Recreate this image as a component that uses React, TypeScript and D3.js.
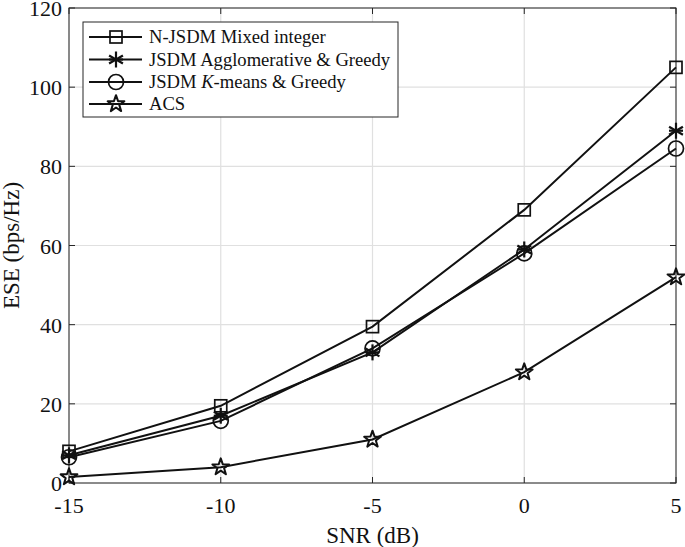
import * as d3 from 'd3';

const snr = [-15, -10, -5, 0, 5];
const xTicks = [-15, -10, -5, 0, 5];
const yTicks = [0, 20, 40, 60, 80, 100, 120];

const njsdmMixed = [8, 19.5, 39.5, 69, 105];
const jsdmAgglo = [7, 17, 33, 59, 89];
const jsdmKmeans = [6.5, 15.7, 34, 58, 84.5];
const acs = [1.5, 4, 11, 28, 52];

type Marker = 'square' | 'asterisk' | 'circle' | 'star';

const series: { name: string; values: number[]; marker: Marker }[] = [
  { name: 'N-JSDM Mixed integer', values: njsdmMixed, marker: 'square' },
  { name: 'JSDM Agglomerative & Greedy', values: jsdmAgglo, marker: 'asterisk' },
  { name: 'JSDM K-means & Greedy', values: jsdmKmeans, marker: 'circle' },
  { name: 'ACS', values: acs, marker: 'star' },
];

const W = 685;
const H = 547;
const margin = { left: 69, right: 9, top: 8, bottom: 64 };
const FONT = '"Liberation Serif", "Times New Roman", serif';

function MarkerShape({ type, x, y }: { type: Marker; x: number; y: number }) {
  const common = { fill: 'none', stroke: '#111', strokeWidth: 1.7 };
  if (type === 'square') {
    return <rect x={x - 6} y={y - 6} width={12} height={12} {...common} />;
  }
  if (type === 'circle') {
    return <circle cx={x} cy={y} r={7.5} {...common} />;
  }
  if (type === 'asterisk') {
    const r = 8;
    const lines = [0, 60, 120].map(a => {
      const rad = (a * Math.PI) / 180 + Math.PI / 2;
      return (
        <line key={a}
          x1={x - r * Math.cos(rad)} y1={y - r * Math.sin(rad)}
          x2={x + r * Math.cos(rad)} y2={y + r * Math.sin(rad)}
          stroke="#111" strokeWidth={2.2} />
      );
    });
    return <g>{lines}<line x1={x - 7} y1={y} x2={x + 7} y2={y} stroke="#111" strokeWidth={2.2} /></g>;
  }
  // pentagram
  const outer = 8.8;
  const inner = outer * 0.4;
  const pts: [number, number][] = d3.range(10).map(i => {
    const ang = -Math.PI / 2 + (i * Math.PI) / 5;
    const rr = i % 2 === 0 ? outer : inner;
    return [x + rr * Math.cos(ang), y + rr * Math.sin(ang)];
  });
  return <path d={d3.line()(pts) + 'Z'} {...common} strokeWidth={2} strokeLinejoin="round" />;
}

export default function App() {
  const x = d3.scaleLinear().domain([-15, 5]).range([margin.left, W - margin.right]);
  const y = d3.scaleLinear().domain([0, 120]).range([H - margin.bottom, margin.top]);
  const line = d3.line<number>().x((_, i) => x(snr[i])).y(d => y(d));
  const x0 = x(-15), x1 = x(5), y0 = y(0), y1 = y(120);
  const axisColor = '#262626';

  const legendX = 83, legendY = 22, legendW = 315, legendH = 95;
  const rowY = [37, 59.5, 82, 104];

  return (
    <svg width={W} height={H} style={{ position: 'absolute', left: 0, top: 0, background: '#fff' }}
      fontFamily={FONT}>
      <rect x={0} y={0} width={W} height={H} fill="#fff" />
      {/* grid */}
      {xTicks.map(t => (
        <line key={'gx' + t} x1={x(t)} x2={x(t)} y1={y0} y2={y1} stroke="#e0e0e0" strokeWidth={1.2} />
      ))}
      {yTicks.map(t => (
        <line key={'gy' + t} x1={x0} x2={x1} y1={y(t)} y2={y(t)} stroke="#e0e0e0" strokeWidth={1.2} />
      ))}
      {/* ticks (inward, all sides) */}
      {xTicks.map(t => (
        <g key={'tx' + t}>
          <line x1={x(t)} x2={x(t)} y1={y0} y2={y0 - 6} stroke={axisColor} />
          <line x1={x(t)} x2={x(t)} y1={y1} y2={y1 + 6} stroke={axisColor} />
          <text x={x(t)} y={y0 + 30} textAnchor="middle" fontSize={22} fill="#111">{t}</text>
        </g>
      ))}
      {yTicks.map(t => (
        <g key={'ty' + t}>
          <line x1={x0} x2={x0 + 6} y1={y(t)} y2={y(t)} stroke={axisColor} />
          <line x1={x1} x2={x1 - 6} y1={y(t)} y2={y(t)} stroke={axisColor} />
          <text x={x0 - 7} y={y(t) + 8} textAnchor="end" fontSize={22} fill="#111">{t}</text>
        </g>
      ))}
      {/* box */}
      <rect x={x0} y={y1} width={x1 - x0} height={y0 - y1} fill="none" stroke={axisColor} strokeWidth={1} />
      {/* series */}
      {series.map(s => (
        <g key={s.name}>
          <path d={line(s.values) || ''} fill="none" stroke="#111" strokeWidth={2} />
          {s.values.map((v, i) => (
            <MarkerShape key={i} type={s.marker} x={x(snr[i])} y={y(v)} />
          ))}
        </g>
      ))}
      {/* axis labels */}
      <text x={(x0 + x1) / 2} y={543} textAnchor="middle" fontSize={23} fill="#111">SNR (dB)</text>
      <text transform={`translate(19,${(y0 + y1) / 2}) rotate(-90)`} textAnchor="middle" fontSize={23} fill="#111">
        ESE (bps/Hz)
      </text>
      {/* legend */}
      <rect x={legendX} y={legendY} width={legendW} height={legendH} fill="#fff" stroke={axisColor} strokeWidth={1} />
      {series.map((s, i) => (
        <g key={'lg' + s.name}>
          <line x1={89} x2={142} y1={rowY[i]} y2={rowY[i]} stroke="#111" strokeWidth={2} />
          <MarkerShape type={s.marker} x={116} y={rowY[i]} />
          <text x={149} y={rowY[i] + 6} fontSize={18.6} fill="#111">
            {s.marker === 'circle'
              ? <>JSDM <tspan fontStyle="italic">K</tspan>-means &amp; Greedy</>
              : s.name}
          </text>
        </g>
      ))}
    </svg>
  );
}
